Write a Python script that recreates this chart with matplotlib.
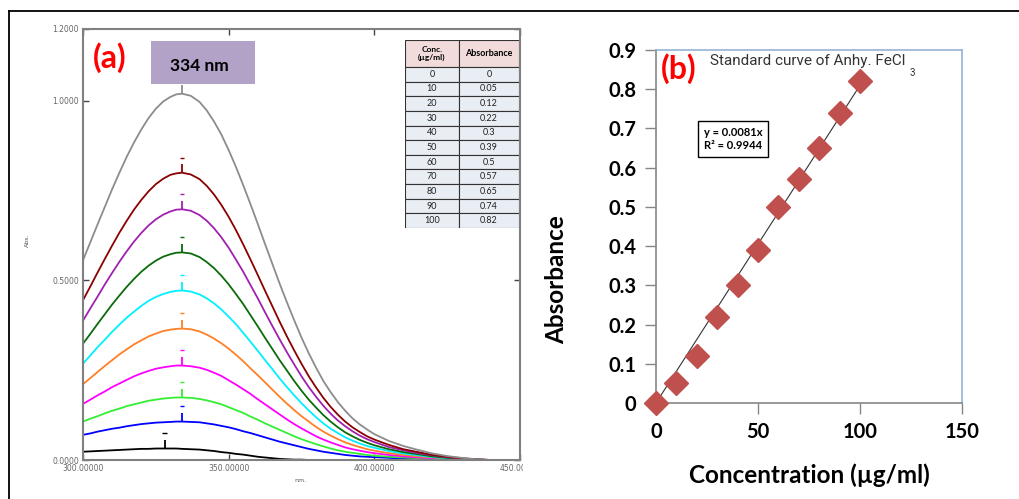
import matplotlib
matplotlib.use("Agg")
import matplotlib.pyplot as plt
from matplotlib.patches import Rectangle
from matplotlib.lines import Line2D
from matplotlib.transforms import Bbox, TransformedBbox

# ---- data: panel (a) UV spectra ----
wavelength = [300, 302.5, 305, 307.5, 310, 312.5, 315, 317.5, 320, 322.5, 325, 327.5, 330, 332, 334, 337,
              340, 342.5, 345, 347.5, 350, 352.5, 355, 357.5, 360, 362.5, 365, 367.5, 370, 372.5,
              375, 377.5, 380, 382.5, 385, 387.5, 390, 392.5, 395, 397.5, 400,
              405, 410, 415, 420, 425, 430, 435, 440, 450]

abs_0 = [.023, .024, .025, .026, .027, .028, .029, .030, .031, .031, .032, .032, .032, .032, .031, .030,
         .029, .027, .025, .022, .020, .017, .015, .012, .009, .007, .005, .003, .002, .001,
         .001, 0, 0, 0, 0, 0, 0, 0, 0, 0, 0,
         0, 0, 0, 0, 0, 0, 0, 0, 0]
abs_10 = [.070, .074, .079, .083, .087, .090, .094, .097, .100, .102, .104, .105, .106, .107, .107, .106,
          .105, .102, .099, .095, .091, .086, .080, .075, .069, .063, .057, .051, .046, .041,
          .036, .031, .027, .023, .020, .017, .014, .012, .010, .009, .008,
          .006, .004, .003, .002, .001, .001, 0, 0, 0]
abs_20 = [.107, .115, .122, .130, .137, .143, .150, .155, .160, .165, .168, .171, .173, .174, .174, .173,
          .170, .166, .161, .155, .147, .139, .131, .121, .112, .102, .093, .084, .075, .066,
          .058, .051, .044, .038, .032, .027, .023, .020, .017, .014, .012,
          .009, .007, .005, .003, .002, .001, 0, 0, 0]
abs_30 = [.156, .168, .180, .191, .203, .213, .223, .233, .241, .248, .254, .258, .261, .263, .263, .261,
          .257, .251, .243, .234, .222, .210, .197, .184, .169, .155, .141, .127, .113, .100,
          .088, .077, .066, .057, .049, .042, .035, .030, .026, .022, .019,
          .014, .010, .007, .005, .003, .002, .001, 0, 0]
abs_40 = [.211, .228, .245, .262, .278, .294, .308, .322, .333, .344, .352, .359, .363, .365, .366, .364,
          .358, .349, .338, .325, .310, .293, .275, .255, .236, .216, .196, .176, .157, .139,
          .122, .107, .092, .079, .068, .058, .049, .042, .036, .030, .026,
          .019, .014, .010, .007, .004, .002, .001, 0, 0]
abs_50 = [.268, .291, .314, .335, .357, .377, .396, .413, .429, .443, .454, .462, .468, .471, .472, .469,
          .461, .450, .436, .419, .399, .378, .354, .329, .304, .278, .253, .227, .203, .180,
          .158, .138, .119, .102, .087, .075, .063, .054, .046, .039, .034,
          .025, .018, .013, .008, .005, .003, .001, 0, 0]
abs_60 = [.324, .351, .379, .406, .433, .458, .482, .504, .524, .541, .555, .566, .573, .577, .578, .575,
          .565, .551, .534, .513, .489, .462, .434, .403, .372, .340, .309, .278, .249, .220,
          .193, .168, .146, .125, .107, .091, .077, .066, .056, .048, .041,
          .030, .022, .016, .010, .006, .003, .001, 0, 0]
abs_70 = [.388, .422, .455, .489, .521, .552, .581, .608, .632, .653, .670, .683, .692, .697, .698, .694,
          .682, .666, .645, .620, .591, .558, .524, .487, .450, .411, .373, .336, .300, .266,
          .233, .203, .176, .151, .129, .110, .094, .080, .068, .058, .050,
          .036, .027, .019, .013, .008, .004, .001, 0, 0]
abs_80 = [.445, .483, .522, .560, .597, .633, .666, .697, .724, .748, .768, .783, .794, .798, .800, .795,
          .782, .763, .739, .710, .677, .640, .600, .558, .515, .471, .428, .385, .344, .305,
          .268, .233, .202, .173, .148, .126, .107, .091, .078, .066, .057,
          .042, .030, .022, .014, .009, .005, .002, 0, 0]
abs_100 = [.556, .606, .656, .705, .754, .800, .844, .884, .920, .952, .978, .998, 1.011, 1.018, 1.020, 1.014,
           .997, .973, .942, .906, .863, .816, .765, .712, .657, .601, .546, .491, .439, .389,
           .341, .297, .257, .220, .189, .161, .137, .116, .099, .085, .072,
           .053, .039, .028, .018, .011, .006, .002, 0, 0]

spectra = [abs_0, abs_10, abs_20, abs_30, abs_40, abs_50, abs_60, abs_70, abs_80, abs_100]
spectra_colors = ['#000000', '#0000FF', '#33EE33', '#FF00FF', '#FF7F27',
                  '#00F0FF', '#0B6B0B', '#A020B0', '#8B0000', '#8C8C8C']
# peak-pick position of each trace
peak_wl = [328, 334, 334, 334, 334, 334, 334, 334, 334, 334]
peak_abs = [.032, .107, .174, .263, .366, .472, .578, .698, .800, 1.020]

# ---- data: calibration table and panel (b) ----
conc = [0, 10, 20, 30, 40, 50, 60, 70, 80, 90, 100]
absorbance = [0, 0.05, 0.12, 0.22, 0.30, 0.39, 0.50, 0.57, 0.65, 0.74, 0.82]
absorbance_txt = ['0', '0.05', '0.12', '0.22', '0.3', '0.39', '0.5', '0.57', '0.65', '0.74', '0.82']
trend_x = [0, 100]
trend_y = [0, 0.81]

W, H = 1019, 499
fig = plt.figure(figsize=(W / 100, H / 100), dpi=100)
fig.patch.set_facecolor('white')


def fx(px):
    return px / W


def fy(py):
    return 1 - py / H


# page border lines
fig.add_artist(Line2D([fx(9), 1], [fy(10.5), fy(10.5)], color='black', lw=1.3))
fig.add_artist(Line2D([fx(9), fx(9)], [fy(10.5), 0], color='black', lw=1.3))

# ---------------- panel (a) ----------------
axa = fig.add_axes([fx(83), fy(460), fx(520) - fx(83), fy(29) - fy(460)])
for y, c in zip(spectra, spectra_colors):
    axa.plot(wavelength, y, color=c, lw=1.3, solid_capstyle='butt')
for w, p, c in zip(peak_wl, peak_abs, spectra_colors):
    axa.vlines(w, p, p + 0.024, color=c, lw=1.3)
    axa.hlines(p + 0.042, w - 0.8, w + 0.8, color=c, lw=1.0)

axa.set_xlim(300, 450)
axa.set_ylim(0, 1.2)
axa.set_xticks([300, 350, 400, 450])
axa.set_xticklabels(['300.00000', '350.00000', '400.00000', '450.00000'])
axa.set_yticks([0, 0.5, 1.0, 1.2])
axa.set_yticklabels(['0.0000', '0.5000', '1.0000', '1.2000'])
axa.tick_params(direction='in', length=4, width=1, colors='#444444', labelsize=5.5,
                labelcolor='#666666', top=True, right=True, pad=3)
for s in axa.spines.values():
    s.set_color('#808080')
    s.set_linewidth(1.5)
axa.set_xlabel('nm.', fontsize=4.5, color='#555555')
axa.xaxis.set_label_coords((300 - 83) / 437, -18 / 431)
axa.set_ylabel('Abs.', fontsize=4.5, color='#555555')
axa.yaxis.set_label_coords(-53 / 437, 220 / 431)

clip = TransformedBbox(Bbox([[0, 0], [fx(523), 1]]), fig.transFigure)
for lbl in axa.get_xticklabels():
    lbl.set_clip_box(clip)
    lbl.set_clip_on(True)

fig.text(fx(110), fy(58), '(a)', color='#FF0000', fontsize=23, fontweight='bold',
         family='Lato', ha='center', va='center')
fig.add_artist(Rectangle((fx(151), fy(84)), fx(255) - fx(151), fy(41) - fy(84),
                         transform=fig.transFigure, facecolor='#B3A2C7', edgecolor='none', zorder=5))
fig.text(fx(199), fy(66), '334 nm', fontsize=12.5, fontweight='bold', family='Lato',
         ha='center', va='center', zorder=6)

# calibration table
axt = fig.add_axes([fx(405), fy(228), fx(519) - fx(405), fy(40) - fy(228)])
axt.set_xlim(0, 114)
axt.set_ylim(188, 0)
axt.axis('off')
head_h = 27
row_h = (188 - head_h) / len(conc)
for x0, wdt in [(0, 54), (54, 60)]:
    axt.add_patch(Rectangle((x0, 0), wdt, head_h, facecolor='#F2DCDB', edgecolor='#333333', lw=0.8))
    for i in range(len(conc)):
        axt.add_patch(Rectangle((x0, head_h + i * row_h), wdt, row_h, facecolor='#E9EDF4',
                                edgecolor='#333333', lw=0.8))
axt.text(27, head_h / 2, 'Conc.\n(µg/ml)', ha='center', va='center', fontsize=6,
         fontweight='bold', family='Lato', linespacing=1.2)
axt.text(84, head_h / 2, 'Absorbance', ha='center', va='center', fontsize=6.5,
         fontweight='bold', family='Lato')
for i, (c, a) in enumerate(zip(conc, absorbance_txt)):
    yc = head_h + (i + 0.5) * row_h
    axt.text(27, yc, str(c), ha='center', va='center', fontsize=6.5, family='Lato', color='#222222')
    axt.text(84, yc, a, ha='center', va='center', fontsize=6.5, family='Lato', color='#222222')

# ---------------- panel (b) ----------------
axb = fig.add_axes([fx(656), fy(403), fx(962) - fx(656), fy(50) - fy(403)])
axb.plot(trend_x, trend_y, color='#333333', lw=0.8, zorder=2)
axb.plot(conc, absorbance, linestyle='none', marker='D', ms=12, color='#C0504D', zorder=3,
         clip_on=False)
axb.set_xlim(0, 150)
axb.set_ylim(0, 0.9)
axb.set_xticks([0, 50, 100, 150])
axb.set_yticks([0, 0.1, 0.2, 0.3, 0.4, 0.5, 0.6, 0.7, 0.8, 0.9])
axb.set_yticklabels(['0', '0.1', '0.2', '0.3', '0.4', '0.5', '0.6', '0.7', '0.8', '0.9'])
axb.tick_params(direction='out', length=8, width=1, color='#868686', labelsize=14.5, pad=6)
for lbl in axb.get_xticklabels() + axb.get_yticklabels():
    lbl.set_fontweight('bold')
    lbl.set_family('Lato')
axb.spines['left'].set_color('#868686')
axb.spines['bottom'].set_color('#868686')
axb.spines['top'].set_color('#95B3D7')
axb.spines['right'].set_color('#95B3D7')
for s in axb.spines.values():
    s.set_linewidth(1.2)
axb.set_xlabel('Concentration (µg/ml)', fontsize=17.5, fontweight='bold', family='Lato')
axb.xaxis.set_label_coords(0.5, -60 / 353)
axb.set_ylabel('Absorbance', fontsize=17.5, fontweight='bold', family='Lato')
axb.yaxis.set_label_coords(-88 / 306, 0.35)

fig.text(fx(679), fy(69), '(b)', color='#FF0000', fontsize=23, fontweight='bold',
         family='Lato', ha='center', va='center')
fig.text(fx(710), fy(61), 'Standard curve of Anhy. FeCl', fontsize=11, family='Roboto',
         color='#333333', ha='left', va='center')
fig.text(fx(910), fy(73), '3', fontsize=7, family='Roboto', color='#333333', ha='left', va='center')
fig.text(fx(704), fy(139), 'y = 0.0081x\nR² = 0.9944', fontsize=8, fontweight='bold', family='Lato',
         ha='left', va='center', linespacing=1.3,
         bbox=dict(boxstyle='square,pad=0.5', facecolor='white', edgecolor='black', lw=1))

fig.savefig('out.png', dpi=100)
